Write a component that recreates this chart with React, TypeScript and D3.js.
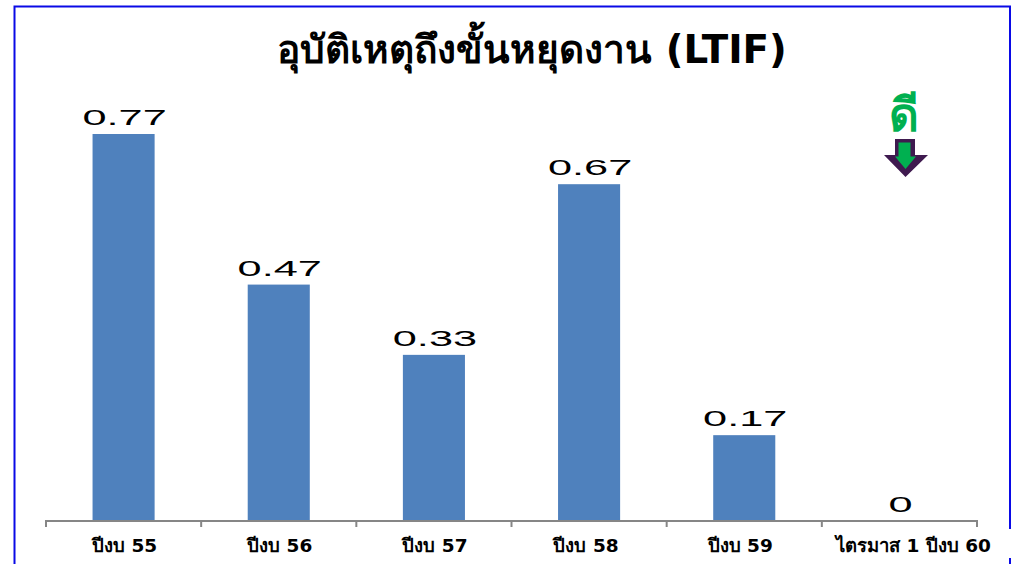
import React from "react";
import * as d3 from "d3";

const categories = ["ปีงบ 55", "ปีงบ 56", "ปีงบ 57", "ปีงบ 58", "ปีงบ 59", "ไตรมาส 1 ปีงบ 60"];
const values = [0.77, 0.47, 0.33, 0.67, 0.17, 0];
const valueLabels = ["0.77", "0.47", "0.33", "0.67", "0.17", "0"];
const title = "อุบัติเหตุถึงขั้นหยุดงาน (LTIF)";
const goodLabel = "ดี";

const W = 1013, H = 564;
const x = d3.scaleBand<string>().domain(categories).range([46, 977]).paddingInner(0.6).paddingOuter(0.3);
const y = d3.scaleLinear().domain([0, 0.77]).range([520.5, 134]);
const font = "Tahoma, 'DejaVu Sans', 'Noto Sans', sans-serif";
const edges = categories.map((c) => x(c)! - x.step() * 0.3).concat([977]);
const labelShift = [1, 1, 1, -3, -4, 14];
const arrow = "M895 139H915V155H928L905.5 177L884 155H895Z";
const arrowInner = "M898.5 142.5H910.5V156.5H916L905.5 169L895 156.5H898.5Z";

export default function App() {
  return (
    <svg width={W} height={H} style={{ position: "absolute", left: 0, top: 0, display: "block" }}>
      <rect width={W} height={H} fill="#fff" />
      <path d="M1010 529V6.5H14.5V564M1010 558V564" fill="none" stroke="#0a0ae6" strokeWidth={2} />
      <text x={532} y={63} textAnchor="middle" fontFamily={font} fontWeight={700} fontSize={38.8} fill="#000">{title}</text>
      {categories.map((c, i) => (
        <g key={c}>
          <rect x={x(c)} y={y(values[i])} width={x.bandwidth()} height={y(0) - y(values[i])} fill="#4f81bd" />
          <text
            transform={`translate(${x(c)! + x.bandwidth() / 2 + 1},${y(values[i]) - 9}) scale(1.97,1)`}
            textAnchor="middle"
            fontFamily="'Liberation Sans', Arial, sans-serif"
            fontSize={22}
            fill="#000"
          >{valueLabels[i]}</text>
          <text x={x(c)! + x.bandwidth() / 2 + labelShift[i]} y={552} textAnchor="middle" fontFamily={font} fontWeight={700} fontSize={18.5} fill="#000">{c}</text>
        </g>
      ))}
      <path d={`M46 527V521H977V527`} fill="none" stroke="#868686" strokeWidth={2} />
      {edges.slice(1, -1).map((e, i) => (
        <line key={i} x1={e} x2={e} y1={521} y2={527} stroke="#868686" strokeWidth={2} />
      ))}
      <text x={904} y={131} textAnchor="middle" fontFamily={font} fontWeight={700} fontSize={46} fill="#00b050">{goodLabel}</text>
      <path d={arrow} fill="#3f1a4f" />
      <path d={arrowInner} fill="#00b050" />
    </svg>
  );
}
